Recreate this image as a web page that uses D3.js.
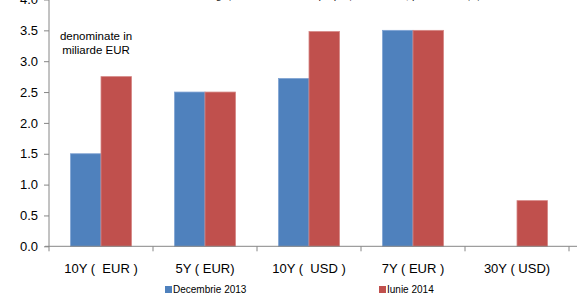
<!DOCTYPE html>
<html><head><meta charset="utf-8">
<script src="https://cdn.jsdelivr.net/npm/d3@7"></script>
<style>body{margin:0;background:#fff}svg{display:block;font-family:"Liberation Sans",Arial,sans-serif}</style>
</head><body>
<svg id="c" width="577" height="295"></svg>
<script>
const categories = ["10Y (  EUR )", "5Y ( EUR)", "10Y (  USD )", "7Y ( EUR )", "30Y ( USD)"];
const seriesNames = ["Decembrie 2013", "Iunie 2014"];
const dec2013 = [1.5, 2.5, 2.72, 3.5, 0];
const iun2014 = [2.75, 2.5, 3.48, 3.5, 0.74];
const yTicks = [0, 0.5, 1.0, 1.5, 2.0, 2.5, 3.0, 3.5, 4.0];
const colors = ["#4F81BD", "#C0504D"];
const edges = ["#7FA3D3", "#D58684"];

const svg = d3.select("#c");
const x = d3.scaleBand().domain(categories).range([49, 569]).paddingInner(0).paddingOuter(0);
const y = d3.scaleLinear().domain([0, 4]).range([246.3, -0.5]);
const inner = d3.scaleBand().domain(seriesNames).range([0, x.bandwidth()]).paddingInner(0).paddingOuter(0.705);

// partially cut-off title
svg.append("text").attr("x", 312).attr("y", -1.5).attr("text-anchor", "middle")
  .attr("font-size", 11).attr("fill", "#222")
  .text("Emisiunile de euroobligațiuni ale României pe piețele externe, pe maturități și valute");

const data = categories.map((c, i) => ({c, vals: [dec2013[i], iun2014[i]]}));
const g = svg.append("g");
data.forEach(d => {
  d.vals.forEach((v, j) => {
    if (v <= 0) return;
    g.append("rect")
      .attr("x", x(d.c) + inner(seriesNames[j]))
      .attr("y", y(v))
      .attr("width", inner.bandwidth())
      .attr("height", y(0) - y(v))
      .attr("fill", colors[j])
      .attr("stroke", edges[j]).attr("stroke-width", 0.8);
  });
});

// y axis
const yAxis = d3.axisLeft(y).tickValues(yTicks).tickFormat(d3.format(".1f")).tickSize(5).tickPadding(6);
const ya = svg.append("g").attr("transform", "translate(49,0)").call(yAxis);
ya.select(".domain").attr("stroke", "#868686").attr("d", "M0,-1V246.3");
ya.selectAll(".tick line").attr("stroke", "#868686");
ya.selectAll(".tick text").attr("font-size", 13).attr("fill", "#000").attr("font-family", "Liberation Sans, Arial, sans-serif");

// x axis
const xa = svg.append("g").attr("transform", `translate(0,${y(0)})`);
xa.append("line").attr("x1", 45).attr("x2", 577).attr("y1", 0).attr("y2", 0).attr("stroke", "#868686");
const bounds = categories.map(c => x(c)).concat([x(categories[categories.length-1]) + x.bandwidth()]);
bounds.forEach(b => xa.append("line").attr("x1", b).attr("x2", b).attr("y1", 0).attr("y2", 5).attr("stroke", "#868686"));
categories.forEach(c => xa.append("text").attr("x", x(c) + x.bandwidth()/2).attr("y", 27)
  .attr("text-anchor", "middle").attr("font-size", 13).attr("fill", "#000")
  .style("white-space", "pre").text(c));

// annotation
const ann = svg.append("text").attr("text-anchor", "middle").attr("font-size", 11.5).attr("fill", "#000");
ann.append("tspan").attr("x", 96).attr("y", 40).text("denominate in");
ann.append("tspan").attr("x", 96).attr("y", 54).text("miliarde EUR");

// legend
const legX = [165, 379];
seriesNames.forEach((s, j) => {
  svg.append("rect").attr("x", legX[j]).attr("y", 286).attr("width", 7).attr("height", 7).attr("fill", colors[j]);
  svg.append("text").attr("x", legX[j] + 8).attr("y", 293).attr("font-size", 10).attr("fill", "#000").text(s);
});
</script>
</body></html>
